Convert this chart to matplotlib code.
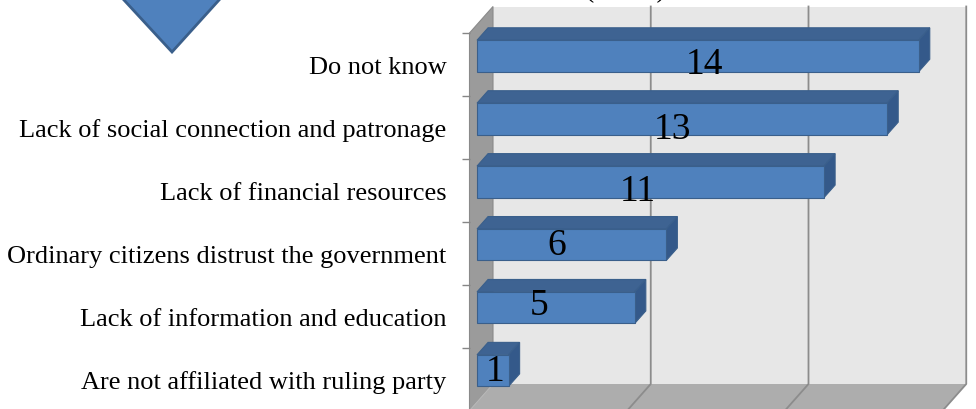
import numpy as np
import matplotlib
matplotlib.use("Agg")
import matplotlib.pyplot as plt
from matplotlib.patches import Polygon
from matplotlib.transforms import Affine2D, IdentityTransform

# ---------------------------------------------------------------------------
# Data (bottom category first)
# ---------------------------------------------------------------------------
categories = [
    "Are not affiliated with ruling party",
    "Lack of information and education",
    "Ordinary citizens distrust the government",
    "Lack of financial resources",
    "Lack of social connection and patronage",
    "Do not know",
]
values = [1, 5, 6, 11, 13, 14]
value_gridlines = [5, 10, 15]
title_text = "(N=50)"

# value label nudges in pixels (dx, dy), same order as categories
label_dx = [2, -17, -15, -13, -10, 7]
label_dy = [6, 9, 6, -2, -3, -1]

# ---------------------------------------------------------------------------
# Style / 3D geometry
# ---------------------------------------------------------------------------
FONT = "Liberation Serif"
DEPTH = np.array([23.5, 26.5])   # display px from front plane to back wall
T_FRONT, T_BACK = 0.32, 0.79     # bar depth inside the box
BAR_H = 0.5
XMAX = 15

WALL = "#e7e7e7"
SIDE = "#9b9b9b"
FLOOR = "#adadad"
GRID = "#8c8c8c"
BAR_FRONT = "#4f81bd"
BAR_TOP = "#3e6392"
BAR_SIDE = "#34598a"
BAR_EDGE = "#3a5f8b"

fig = plt.figure(figsize=(9.76, 4.10), dpi=100)
W, H = 976, 410
ax = fig.add_axes([469.5 / W, -1.5 / H, XMAX * 31.55 / W, 377.5 / H])
ax.set_xlim(0, XMAX)
ax.set_ylim(-0.5, len(categories) - 0.5)
ax.patch.set_visible(False)
for s in ax.spines.values():
    s.set_visible(False)

ymin, ymax = ax.get_ylim()


def pt(x, y, t):
    """data point (x, y) pushed t of the way into the box, in display px"""
    return ax.transData.transform((x, y)) + t * DEPTH


def face(points, **kw):
    poly = Polygon([pt(*p) for p in points], closed=True,
                   transform=IdentityTransform(), clip_on=False, **kw)
    ax.add_patch(poly)
    return poly


# back wall, side wall, floor
face([(0, ymin, 1), (XMAX, ymin, 1), (XMAX, ymax, 1), (0, ymax, 1)],
     facecolor=WALL, edgecolor="none", zorder=0)
face([(0, ymin, 0), (0, ymax, 0), (0, ymax, 1), (0, ymin, 1)],
     facecolor=SIDE, edgecolor="#8a8a8a", linewidth=0.8, zorder=1)
face([(0, ymin, 0), (XMAX, ymin, 0), (XMAX, ymin, 1), (0, ymin, 1)],
     facecolor=FLOOR, edgecolor="none", zorder=1)

# gridlines on back wall and floor
for g in value_gridlines:
    a, b, c = pt(g, ymax, 1), pt(g, ymin, 1), pt(g, ymin, 0)
    ax.plot([a[0], b[0], c[0]], [a[1], b[1], c[1]], color=GRID, lw=1.3,
            transform=IdentityTransform(), clip_on=False, zorder=2)
a, b = pt(0, ymin, 1), pt(0, ymin, 0)
ax.plot([a[0], b[0]], [a[1], b[1]], color="#b8b8b8", lw=0.8,
        transform=IdentityTransform(), clip_on=False, zorder=2)

# bars: front faces through barh, shifted into the box
y_pos = np.arange(len(categories))
shift = Affine2D().translate(*(T_FRONT * DEPTH))
bars = ax.barh(y_pos, values, height=BAR_H, color=BAR_FRONT,
               edgecolor=BAR_EDGE, linewidth=0.8, zorder=6)
for rect in bars:
    rect.set_transform(ax.transData + shift)
    rect.set_clip_on(False)

for y, v in zip(y_pos, values):
    top, bot = y + BAR_H / 2, y - BAR_H / 2
    face([(0, top, T_FRONT), (v, top, T_FRONT), (v, top, T_BACK), (0, top, T_BACK)],
         facecolor=BAR_TOP, edgecolor=BAR_EDGE, linewidth=0.8, zorder=5)
    face([(v, bot, T_FRONT), (v, top, T_FRONT), (v, top, T_BACK), (v, bot, T_BACK)],
         facecolor=BAR_SIDE, edgecolor=BAR_EDGE, linewidth=0.8, zorder=5)

# value labels
for y, v, dx, dy in zip(y_pos, values, label_dx, label_dy):
    x0, y0 = pt(v / 2, y - BAR_H / 2, T_FRONT)
    ax.text(x0 + dx, y0 + dy, str(v), transform=IdentityTransform(),
            ha="center", va="baseline", fontsize=27, family=FONT,
            color="black", zorder=8, clip_on=False)

# category axis: labels centred in each slot, ticks on slot boundaries
ax.set_xticks([])
ax.set_yticks(y_pos, categories)
ax.set_yticks(np.arange(ymin, ymax + 0.01, 1.0), minor=True)
ax.tick_params(axis="y", which="major", length=0, pad=16.5,
               labelsize=19, labelfontfamily=FONT)
ax.tick_params(axis="y", which="minor", length=5.5, width=1.0,
               color="#868686")

# chart title (runs off the top edge)
fig.text(626 / W, (H + 3) / H, title_text, ha="center", va="baseline",
         fontsize=20, family=FONT)

# decorative arrow at top left
arrow = [(113.8, H + 10), (229.0, H + 10), (172.0, H - 53)]
fig.patches.append(Polygon(arrow, closed=True, transform=IdentityTransform(),
                           facecolor=BAR_FRONT, edgecolor="#3a5f8b",
                           linewidth=2.0, figure=fig))

fig.savefig("out.png", dpi=100)
